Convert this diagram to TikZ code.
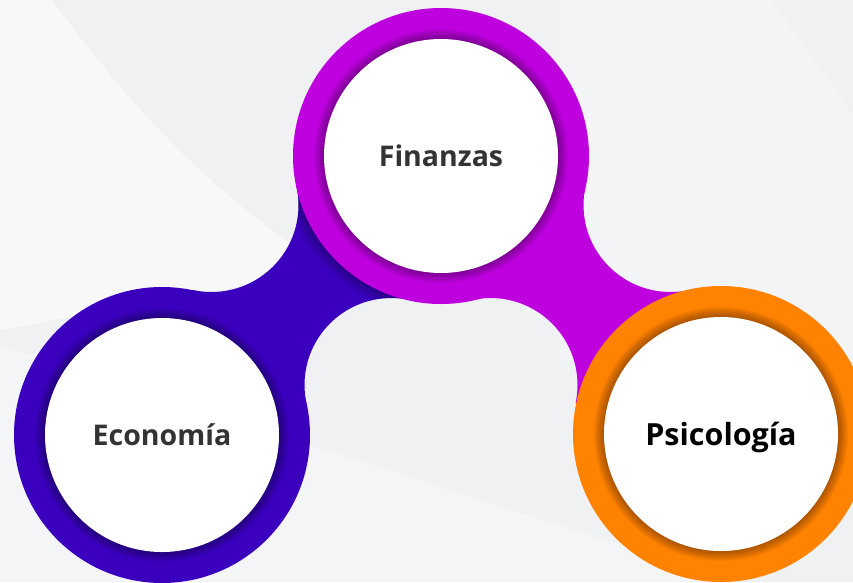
\documentclass[tikz,border=0pt]{standalone}
\usepackage{fontspec}
\setsansfont{Open Sans}
\usepackage{tkz-graph}
\usetikzlibrary{calc}
\pgfdeclarelayer{background}
\pgfsetlayers{background,main}
\definecolor{bgGray}{HTML}{F0F1F3}
\definecolor{ecoBlue}{HTML}{3A00BE}
\definecolor{finMagenta}{HTML}{BE00DF}
\definecolor{psiOrange}{HTML}{FF8200}
\definecolor{labelGray}{HTML}{333333}

\begin{document}
\begin{tikzpicture}[x = 1pt, y = -1pt]
	\tikzstyle{VertexStyle} = []
	\tikzstyle{EdgeStyle} = []
	\tikzstyle{discStyle}=[shape = circle, minimum size = 234pt, inner sep = 0pt, text depth = 0pt, fill = white, text = labelGray, font = \sffamily\bfseries\fontsize{28.5}{32}\selectfont]
	\tikzstyle{psiStyle}=[discStyle, text = black, font = \sffamily\bfseries\fontsize{30.5}{35}\selectfont]
	\tikzstyle{ringShade}=[fill = black, opacity = 0.035]
	\useasboundingbox (0,0) rectangle (853,582);
	\clip (0,0) rectangle (853,582);
	\Vertex[style = discStyle, x = 162, y = 435, L = {Economía}]{eco}
	\Vertex[style = discStyle, x = 441, y = 156, L = {Finanzas}]{fin}
	\Vertex[style = psiStyle, x = 721, y = 434, L = {Psicología}]{psi}
	% centres of the round cut-outs between the rings
	\coordinate (f1) at (211.5, 205);
	\coordinate (f2) at (391.5, 385);
	\coordinate (f3) at (670.5, 205);
	\coordinate (f4) at (490.5, 385);
	\begin{pgfonlayer}{background}
	\clip (0,0) rectangle (853,582);
	\fill[bgGray] (0,0) rectangle (853,582);
	\fill[white, opacity = 0.55] (0,0) -- (52,0) .. controls (140,120) and (220,200) .. (330,270) -- (0,330) -- cycle;
	\fill[white, opacity = 0.3] (0,345) -- (853,620) -- (0,620) -- cycle;
	\fill[white, opacity = 0.25] (560,0) -- (770,0) .. controls (800,40) and (830,80) .. (853,115) -- (853,360) -- (560,360) -- cycle;
	% connectors
	\begin{scope}
		\clip (eco.center) -- (f1) -- (fin.center) -- (f2) -- cycle;
		\fill[ecoBlue, even odd rule] (0,0) rectangle (853,582) (f1) circle[radius = 87pt] (f2) circle[radius = 87pt];
	\end{scope}
	\begin{scope}
		\clip (fin.center) -- (f3) -- (psi.center) -- (f4) -- cycle;
		\fill[finMagenta, even odd rule] (0,0) rectangle (853,582) (f3) circle[radius = 87pt] (f4) circle[radius = 87pt];
	\end{scope}
	% rings
	\fill[ecoBlue] (eco) circle[radius = 148pt];
	\foreach \i in {1,...,10} \fill[ringShade] (eco) circle[radius = 117pt+\i*1pt];
	\begin{scope}[even odd rule]
		\clip (eco.center) -- (f1) -- (fin.center) -- (f2) -- cycle;
		\clip (0,0) rectangle (853,582) (f1) circle[radius = 87pt] (f2) circle[radius = 87pt];
		\foreach \i in {1,...,8} \fill[ringShade] (fin) circle[radius = 148pt+\i*1.5pt];
	\end{scope}
	\fill[finMagenta] (fin) circle[radius = 148pt];
	\foreach \i in {1,...,10} \fill[ringShade] (fin) circle[radius = 117pt+\i*1pt];
	\fill[psiOrange] (psi) circle[radius = 148pt];
	\foreach \i in {1,...,10} \fill[ringShade] (psi) circle[radius = 117pt+\i*1pt];
	\end{pgfonlayer}
\end{tikzpicture}
\end{document}
